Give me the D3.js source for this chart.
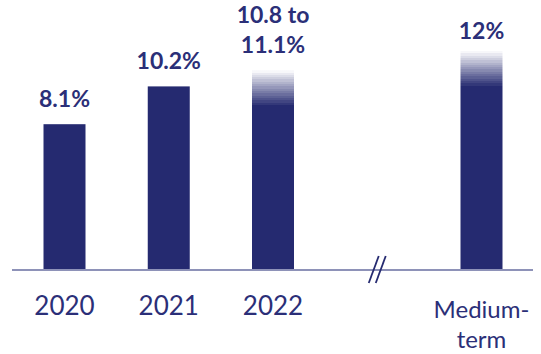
<!DOCTYPE html>
<html><head><meta charset="utf-8">
<script src="https://cdn.jsdelivr.net/npm/d3@7"></script>
<style>html,body{margin:0;padding:0;background:#fff}svg{display:block}</style>
</head><body>
<svg id="c" width="541" height="354"></svg>
<script>
const categories = ["2020", "2021", "2022", "break", "Medium-term"];
const categoryLabels = [["2020"], ["2021"], ["2022"], [], ["Medium-", "term"]];
const values = [8.1, 10.2, 11.1, null, 12];
const rangeLow = [null, null, 10.8, null, null];
const valueLabels = [["8.1%"], ["10.2%"], ["10.8 to", "11.1%"], [], ["12%"]];
const isTarget = [false, false, true, false, true];

const navy = "#252a70", textNavy = "#2b2f78", axisCol = "#8e92b8";
const svg = d3.select("#c");
const x = d3.scalePoint().domain(categories).range([64.5, 481.5]);
const y = d3.scaleLinear().domain([0, 12]).range([270, 54]);
const barW = 42, fadeLen = 37;
const font = "Lato, 'Open Sans', sans-serif";

const defs = svg.append("defs");
categories.forEach((c, i) => {
  if (!isTarget[i]) return;
  const top = y(values[i]) - (i === 4 ? 3 : 0);
  const g = defs.append("linearGradient").attr("id", "g" + i)
    .attr("gradientUnits", "userSpaceOnUse")
    .attr("x1", 0).attr("x2", 0).attr("y1", top).attr("y2", top + fadeLen);
  const n = 16;
  const col = d3.interpolateRgb("#f7f7fa", navy);
  for (let k = 0; k < n; k++) {
    const c0 = col(k / (n - 1));
    g.append("stop").attr("offset", k / n).attr("stop-color", c0);
    g.append("stop").attr("offset", (k + 1) / n).attr("stop-color", c0);
  }
  g.append("stop").attr("offset", 1).attr("stop-color", navy);
});

// bars
categories.forEach((c, i) => {
  if (values[i] == null) return;
  const top = y(values[i]) - (i === 4 ? 3 : 0);
  svg.append("rect")
    .attr("x", x(c) - barW / 2).attr("width", barW)
    .attr("y", top).attr("height", y(0) - top)
    .attr("fill", isTarget[i] ? `url(#g${i})` : navy);
});

// baseline
svg.append("line").attr("x1", 12).attr("x2", 533).attr("y1", y(0)).attr("y2", y(0))
  .attr("stroke", axisCol).attr("stroke-width", 2);

// axis break marks
const bx = x("break");
[-3.5, 3.5].forEach(dx => {
  svg.append("line")
    .attr("x1", bx + dx + 5).attr("y1", y(0) - 14)
    .attr("x2", bx + dx - 5).attr("y2", y(0) + 13)
    .attr("stroke", navy).attr("stroke-width", 1.8);
});

// value labels
categories.forEach((c, i) => {
  const lines = valueLabels[i];
  if (!lines.length) return;
  const base = y(values[i]) - (i === 4 ? 15 : 17);
  lines.forEach((t, k) => {
    svg.append("text").attr("x", x(c)).attr("y", base - (lines.length - 1 - k) * 30)
      .attr("text-anchor", "middle").attr("font-family", font)
      .attr("font-weight", 700).attr("font-size", 23).attr("fill", textNavy).text(t);
  });
});

// category labels
categories.forEach((c, i) => {
  const multi = categoryLabels[i].length > 1;
  categoryLabels[i].forEach((t, k) => {
    svg.append("text").attr("x", x(c)).attr("y", (multi ? 318 : 315) + k * 30)
      .attr("text-anchor", "middle").attr("font-family", font)
      .attr("font-size", multi ? 24 : 26).attr("fill", textNavy).text(t);
  });
});
</script>
</body></html>
